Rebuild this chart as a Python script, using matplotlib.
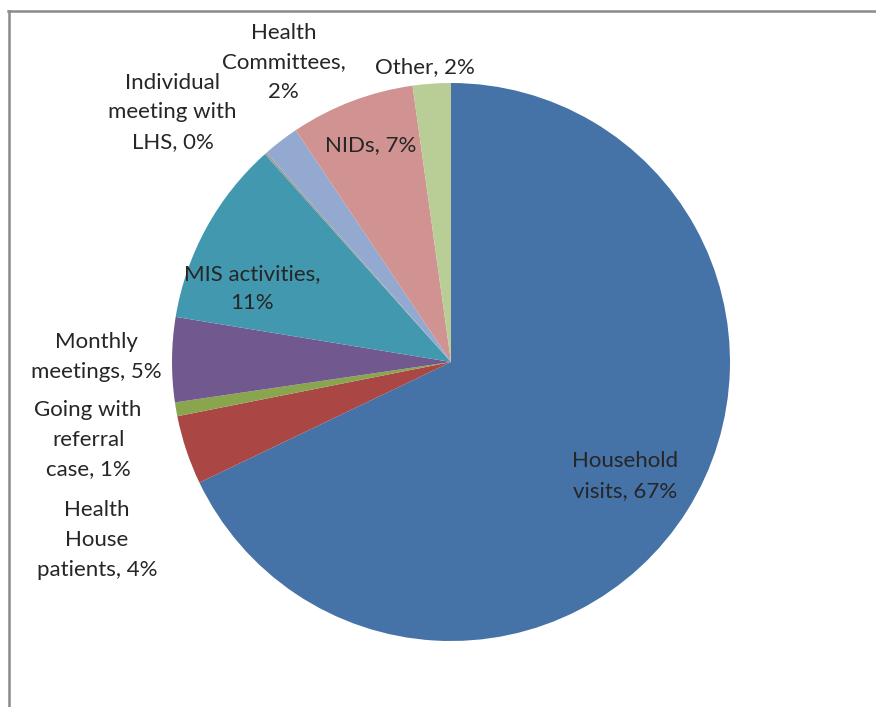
import numpy as np
import matplotlib
matplotlib.use('Agg')
import matplotlib.pyplot as plt
from matplotlib.lines import Line2D

# slice data, clockwise from 12 o'clock
names = ['Household\nvisits', 'Health\nHouse\npatients', 'Going with\nreferral\ncase',
         'Monthly\nmeetings', 'MIS activities,\n', 'Individual\nmeeting with\nLHS',
         'Health\nCommittees,\n', 'NIDs', 'Other']
values = [67.9, 4.0, 0.8, 4.9, 10.8, 0.12, 2.1, 7.2, 2.2]
pct_text = ['67%', '4%', '1%', '5%', '11%', '0%', '2%', '7%', '2%']
colors = ['#4572A7', '#AA4643', '#89A54E', '#71588F', '#4198AF',
          '#9C9C9C', '#93A9CF', '#D19392', '#B9CD96']

# label placement: (distance in radii, angle in degrees)
lab_pos = [(0.745, -33.2), (1.42, 206.7), (1.33, 192.1), (1.27, 179.2),
           (0.76, 159.7), (1.34, 138.1), (1.23, 119.2), (0.83, 110.2), (1.06, 95.0)]

W, H = 876, 707
fig = plt.figure(figsize=(W/100, H/100), dpi=100)
ax = fig.add_axes([0, 0, 1, 1])

cx, cy, R = 451, H - 362, 279
wedges, _ = ax.pie(values, colors=colors, startangle=90, counterclock=False,
                   center=(cx, cy), radius=R, frame=True,
                   wedgeprops=dict(linewidth=0))
ax.set_xlim(0, W)
ax.set_ylim(0, H)
ax.axis('off')

for i, w in enumerate(wedges):
    d, a = lab_pos[i]
    x = cx + d*R*np.cos(np.radians(a))
    y = cy + d*R*np.sin(np.radians(a))
    if names[i].endswith(',\n'):
        txt = names[i] + pct_text[i]
    else:
        txt = names[i] + ', ' + pct_text[i]
    ax.text(x, y, txt, ha='center', va='center', multialignment='center',
            fontsize=16, family=['Lato', 'DejaVu Sans'], color='#262626',
            linespacing=1.6)

# frame lines like the original (top and left)
fig.add_artist(Line2D([8/W, 1], [1 - 11/H, 1 - 11/H], transform=fig.transFigure,
                      color='#8a8a8a', lw=1.8))
fig.add_artist(Line2D([8.5/W, 8.5/W], [0, 1 - 11/H], transform=fig.transFigure,
                      color='#8a8a8a', lw=1.8))

fig.savefig('out.png', dpi=100, facecolor='white')
